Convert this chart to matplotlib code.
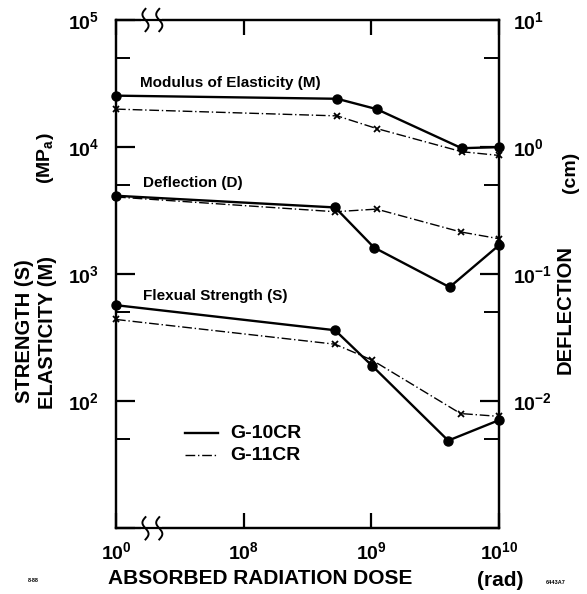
import numpy as np
import matplotlib
matplotlib.use("Agg")
import matplotlib.pyplot as plt
from matplotlib.ticker import FixedLocator, FixedFormatter, NullLocator
from matplotlib.patches import Rectangle

plt.rcParams["font.family"] = ["Liberation Sans", "DejaVu Sans"]
plt.rcParams["font.weight"] = "bold"
plt.rcParams["mathtext.default"] = "regular"

# dose in rad; modulus and strength in MPa; deflection in cm
dose_g10_mod = [1, 5.4e8, 1.1e9, 5.1e9, 1e10]
mod_g10 = [25400, 24000, 19900, 9800, 10000]
dose_g11_mod = [1, 5.4e8, 1.1e9, 5.1e9, 1e10]
mod_g11 = [19900, 17600, 14000, 9200, 8600]

dose_g10_defl = [1, 5.2e8, 1.05e9, 4.1e9, 1e10]
defl_g10 = [0.414, 0.335, 0.162, 0.079, 0.169]
dose_g11_defl = [1, 5.2e8, 1.1e9, 5.0e9, 1e10]
defl_g11 = [0.405, 0.31, 0.325, 0.215, 0.19]

dose_g10_str = [1, 5.2e8, 1.02e9, 4.0e9, 1e10]
str_g10 = [570, 362, 189, 49, 71]
dose_g11_str = [1, 5.2e8, 1.02e9, 5.0e9, 1e10]
str_g11 = [440, 281, 210, 80, 76]

x_ticks = [1, 1e8, 1e9, 1e10]
x_labels = ["$10^0$", "$10^8$", "$10^9$", "$10^{10}$"]
left_ticks = [1e1, 1e2, 1e3, 1e4, 1e5]
left_labels = ["", "$10^2$", "$10^3$", "$10^4$", "$10^5$"]
right_ticks = [1e-3, 1e-2, 1e-1, 1e0, 1e1]
right_labels = ["", "$10^{-2}$", "$10^{-1}$", "$10^0$", "$10^1$"]


# broken dose axis: 10^0..10^8 squeezed into one decade
def fwd(d):
    ld = np.log10(np.clip(np.asarray(d, float), 1e-300, None))
    return np.where(ld < 8, ld / 8, ld - 7)


def inv(u):
    u = np.asarray(u, float)
    return np.where(u < 1, 10 ** (8 * u), 10 ** (u + 7))


G10 = dict(color="black", lw=1.7, ls="-", marker="o", ms=6.5, clip_on=False, zorder=4)
G11 = dict(color="black", lw=1.0, ls=(0, (7, 2, 1, 2)), marker="x", ms=4, mew=1.3,
           clip_on=False, zorder=3)

fig = plt.figure(figsize=(5.87, 5.94), dpi=100)
ax = fig.add_axes([0.1976, 0.1106, 0.6525, 0.8557])
ax.set_xscale("function", functions=(fwd, inv))
ax.set_yscale("log")
ax.set_xlim(1, 1e10)
ax.set_ylim(10, 1e5)

ax2 = ax.twinx()
ax2.set_yscale("log")
ax2.set_ylim(1e-3, 10)

ax.plot(dose_g10_mod, mod_g10, **G10)
ax.plot(dose_g11_mod, mod_g11, **G11)
ax.plot(dose_g10_str, str_g10, **G10)
ax.plot(dose_g11_str, str_g11, **G11)
ax2.plot(dose_g10_defl, defl_g10, **G10)
ax2.plot(dose_g11_defl, defl_g11, **G11)

for a in (ax, ax2):
    for s in a.spines.values():
        s.set_linewidth(1.6)

ax.xaxis.set_major_locator(FixedLocator(x_ticks))
ax.xaxis.set_major_formatter(FixedFormatter(x_labels))
ax.xaxis.set_minor_locator(NullLocator())
ax.tick_params(axis="x", which="major", direction="in", top=True, bottom=True,
               length=11, width=1.6, pad=9, labelsize=14)

ax.yaxis.set_major_locator(FixedLocator(left_ticks))
ax.yaxis.set_major_formatter(FixedFormatter(left_labels))
ax.yaxis.set_minor_locator(FixedLocator([50, 500, 5000, 50000]))
ax.yaxis.set_minor_formatter(FixedFormatter([""] * 4))
ax.tick_params(axis="y", which="major", direction="in", length=14, width=1.6,
               pad=12, labelsize=14)
ax.tick_params(axis="y", which="minor", direction="in", length=10, width=1.4)

ax2.yaxis.set_major_locator(FixedLocator(right_ticks))
ax2.yaxis.set_major_formatter(FixedFormatter(right_labels))
ax2.yaxis.set_minor_locator(FixedLocator([5e-3, 5e-2, 5e-1, 5]))
ax2.yaxis.set_minor_formatter(FixedFormatter([""] * 4))
ax2.tick_params(axis="y", which="major", direction="in", length=14, width=1.6,
                pad=10, labelsize=14)
ax2.tick_params(axis="y", which="minor", direction="in", length=11, width=1.4)

# axis break marks on top and bottom spines
t = np.linspace(-1, 1, 60)
for yb in (0.0, 1.0):
    ax.add_patch(Rectangle((0.065, yb - 0.006), 0.055, 0.012, transform=ax.transAxes,
                           fc="white", ec="none", clip_on=False, zorder=5))
    for x0 in (0.077, 0.113):
        ax.plot(x0 - 0.008 * np.sin(np.pi * t), yb + 0.022 * t, color="black",
                lw=1.4, transform=ax.transAxes, clip_on=False, zorder=6)

ax.text(0.063, 0.876, "Modulus of Elasticity (M)", transform=ax.transAxes,
        fontsize=11, va="center")
ax.text(0.07, 0.679, "Deflection (D)", transform=ax.transAxes,
        fontsize=11, va="center")
ax.text(0.07, 0.457, "Flexual Strength (S)", transform=ax.transAxes,
        fontsize=11, va="center")

# legend
for yy, sty, lab in ((0.187, G10, "G-10CR"), (0.144, G11, "G-11CR")):
    st = {k: v for k, v in sty.items() if k not in ("marker", "ms", "mew")}
    ax.plot([0.18, 0.266], [yy, yy], transform=ax.transAxes, **st)
    ax.text(0.298, yy, lab, transform=ax.transAxes, fontsize=14, va="center")

fig.text(260 / 587, 1 - 578 / 594, "ABSORBED RADIATION DOSE", fontsize=15,
         ha="center", va="center")
fig.text(500 / 587, 1 - 580 / 594, "(rad)", fontsize=15, ha="center", va="center")
fig.text(24 / 587, 1 - 331 / 594, "STRENGTH (S)", fontsize=14.5, rotation=90,
         ha="center", va="center")
fig.text(48 / 587, 1 - 333 / 594, "ELASTICITY (M)", fontsize=14.5, rotation=90,
         ha="center", va="center")
fig.text(45 / 587, 1 - 158 / 594, "(MP$_a$)", fontsize=14, rotation=90,
         ha="center", va="center")
fig.text(565 / 587, 1 - 309 / 594, "DEFLECTION", fontsize=14.5, rotation=90,
         ha="center", va="center")
fig.text(571 / 587, 1 - 172 / 594, "(cm)", fontsize=14, rotation=90,
         ha="center", va="center")
fig.text(33 / 587, 1 - 580 / 594, "8-88", fontsize=4, ha="center", va="center")
fig.text(556 / 587, 1 - 582 / 594, "6443A7", fontsize=4, ha="center", va="center")

fig.savefig("out.png", dpi=100)
